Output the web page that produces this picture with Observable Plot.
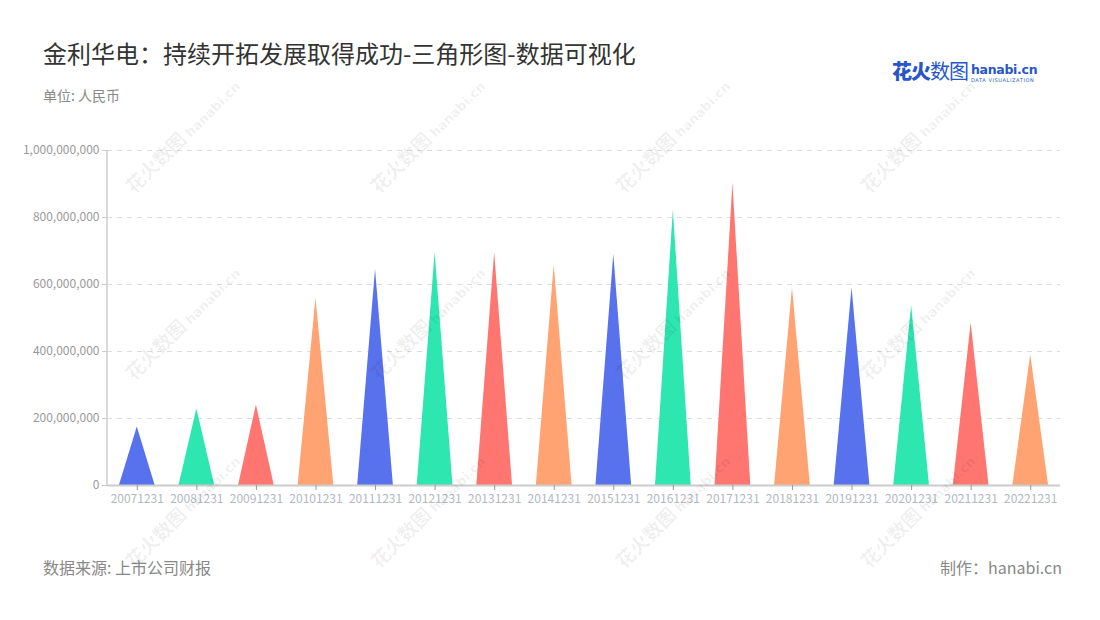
<!DOCTYPE html>
<html><head><meta charset="utf-8">
<script src="https://cdn.jsdelivr.net/npm/d3@7"></script>
<script src="https://cdn.jsdelivr.net/npm/@observablehq/plot@0.6"></script>
<style>
html,body{margin:0;padding:0;background:#fff;}
body{width:1100px;height:620px;position:relative;overflow:hidden;font-family:"Noto Sans CJK SC","Noto Sans",sans-serif;}
#title{position:absolute;left:43px;top:36px;font-size:24px;color:#333;line-height:34px;white-space:nowrap;}
#sub{position:absolute;left:43px;top:85px;font-size:14px;color:#888;line-height:20px;}
#chart{position:absolute;left:0;top:120px;}
#src{position:absolute;left:43px;top:555px;font-size:16px;color:#888;line-height:24px;}
#made{position:absolute;right:38px;top:555px;font-size:16px;color:#888;line-height:24px;}
#logo{position:absolute;left:892px;top:58px;white-space:nowrap;}
#logo .cn{font-size:20px;color:#2756c9;letter-spacing:-1px;vertical-align:top;line-height:26px;}
#logo .cn b{font-weight:900;}
#logo .en{display:inline-block;vertical-align:top;margin-left:3px;line-height:13px;}
#logo .en b{font-family:"DejaVu Sans",sans-serif;font-size:12.5px;color:#2756c9;display:block;margin-top:5px;letter-spacing:-0.3px;}
#logo .en i{font-style:normal;font-size:5px;color:#2756c9;letter-spacing:0.6px;display:block;font-family:"DejaVu Sans";line-height:8px;}
.wm{position:absolute;transform-origin:0 50%;transform:rotate(-45deg);white-space:nowrap;color:rgba(0,0,0,0.065);font-weight:bold;font-size:19px;pointer-events:none;}
.wm span{font-family:"DejaVu Sans",sans-serif;font-size:13px;margin-left:4px;}
</style></head>
<body>
<div id="title">金利华电：持续开拓发展取得成功-三角形图-数据可视化</div>
<div id="sub">单位: 人民币</div>
<div id="logo"><span class="cn"><b>花火</b>数图</span><span class="en"><b>hanabi.cn</b><i>DATA VISUALIZATION</i></span></div>
<div id="chart"></div>
<div id="src">数据来源: 上市公司财报</div>
<div id="made">制作：hanabi.cn</div>
<script>
const dates = ["20071231","20081231","20091231","20101231","20111231","20121231","20131231","20141231","20151231","20161231","20171231","20181231","20191231","20201231","20211231","20221231"];
const values = [175000000,228000000,240000000,560000000,645000000,695000000,695000000,658000000,690000000,822000000,902000000,590000000,590000000,537000000,485000000,390000000];
const palette = ["#5872ee","#2de6b0","#ff7671","#ffa372"];
const yTicks = [0,200000000,400000000,600000000,800000000,1000000000];

const data = dates.map((d,i)=>({date:d, value:values[i], color:palette[i%palette.length]}));

const triangles = Plot.barY(data, {
  x: "date", y: "value", fill: "color",
  render(index, scales, v, dims) {
    const bw = scales.x.bandwidth();
    const g = d3.create("svg:g");
    g.selectAll("path").data(Array.from(index)).join("path")
      .attr("d", i => {
        const x0 = v.x[i], yb = Math.max(v.y1[i], v.y2[i]), yt = Math.min(v.y1[i], v.y2[i]);
        return `M${x0},${yb}L${x0+bw/2},${yt}L${x0+bw},${yb}Z`;
      })
      .attr("fill", i => v.fill[i]);
    return g.node();
  }
});

const yLine = (index, scales, v, dims) => {
  const g = d3.create("svg:line")
    .attr("x1", dims.marginLeft).attr("x2", dims.marginLeft)
    .attr("y1", scales.y(yTicks[yTicks.length-1])).attr("y2", scales.y(0))
    .attr("stroke", "#cccccc").attr("stroke-width", 1.5);
  return g.node();
};

const chart = Plot.plot({
  width: 1100, height: 400,
  marginLeft: 107, marginRight: 40, marginTop: 30, marginBottom: 35,
  style: {fontFamily: '"Noto Sans CJK SC","Noto Sans",sans-serif', fontSize: "12px", background: "transparent"},
  x: {domain: dates, paddingInner: 0.4, paddingOuter: 0.2, round: false, label: null},
  y: {domain: [0, 1000000000], label: null},
  color: {type: "identity"},
  marks: [
    Plot.gridY(yTicks.filter(t=>t>0), {stroke: "#dddddd", strokeOpacity: 1, strokeDasharray: "5,5", strokeWidth: 1}),
    triangles,
    Plot.ruleY([0], {stroke: "#cccccc", strokeWidth: 2}),
    yLine,
    Plot.axisY(yTicks, {tickFormat: d3.format(","), tickSize: 5, tickPadding: 3, stroke: "#cccccc", color: "#999999", fontSize: 12, label: null}),
    Plot.axisX({tickSize: 5, tickPadding: 4, stroke: "#999999", color: "#b3b7c2", fontSize: 12, label: null})
  ]
});
document.getElementById("chart").appendChild(chart);

// watermarks
const wmCols = [128, 373, 618, 863];
const wmRows = [175, 362, 550];
for (const t of wmRows) for (const l of wmCols) {
  const d = document.createElement("div");
  d.className = "wm";
  d.style.left = l + "px"; d.style.top = t + "px";
  d.innerHTML = '花火数图<span>hanabi.cn</span>';
  document.body.appendChild(d);
}
</script>
</body></html>
